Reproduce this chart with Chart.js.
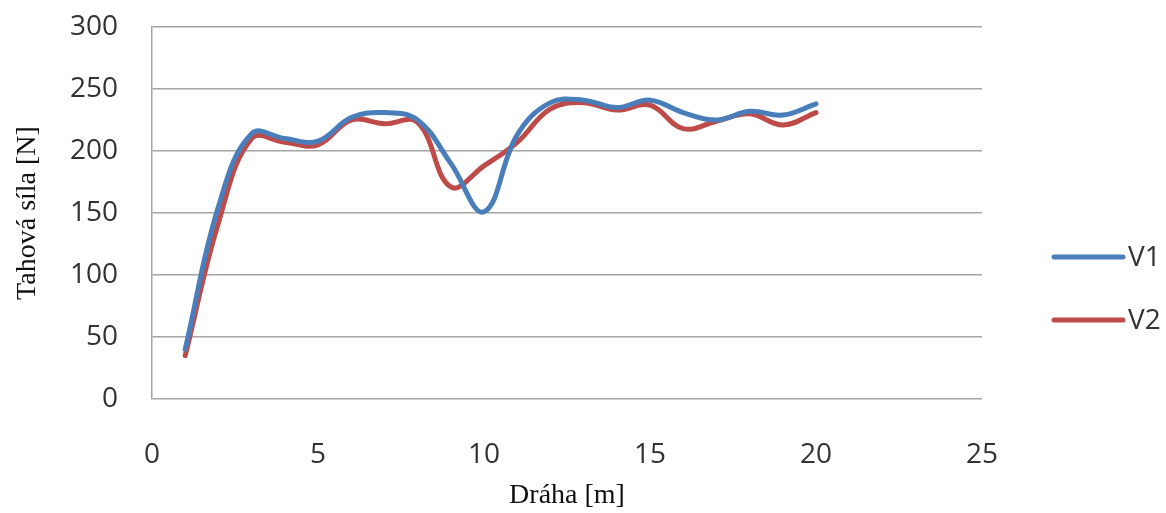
<!DOCTYPE html>
<html>
<head>
<meta charset="utf-8">
<script src="https://cdn.jsdelivr.net/npm/chart.js@4/dist/chart.umd.min.js"></script>
<style>
  html, body { margin: 0; padding: 0; background: #ffffff; }
  #wrap { width: 1166px; height: 513px; position: relative; }
</style>
</head>
<body>
<div id="wrap"><canvas id="c" width="1166" height="513"></canvas></div>
<script>
// Distance along the track [m]
const distance = [1, 2, 3, 4, 5, 6, 7, 8, 9, 10, 11, 12, 13, 14, 15, 16, 17, 18, 19, 20];
// Pulling force [N] for the two variants
const v1 = [40, 155, 214, 210, 208, 227, 231, 225, 190, 151, 213, 239, 241, 235, 241, 231, 225, 232, 229, 238];
const v2 = [35, 142, 210, 207, 205, 225, 222, 223, 171, 188, 207, 234, 239, 233, 237, 218, 224, 230, 221, 231];
const seriesNames = ['V1', 'V2'];
const seriesColors = ['#4a7ebb', '#be4b48'];
const xTicks = [0, 5, 10, 15, 20, 25];
const yTicks = [0, 50, 100, 150, 200, 250, 300];
const xTitle = 'Dráha [m]';
const yTitle = 'Tahová síla [N]';

const tickFont = { family: "'Open Sans', 'Liberation Sans', sans-serif", size: 28 };
const titleFont = { family: "'Liberation Serif', 'DejaVu Serif', serif", size: 28 };
const gridColor = '#a5a5a5';

function toPoints(values) {
  return distance.map((d, i) => ({ x: d, y: values[i] }));
}

// Legend drawn at the right of the plot: a short line sample and the series name
const sideLegend = {
  id: 'sideLegend',
  afterDraw(chart) {
    const ctx = chart.ctx;
    const area = chart.chartArea;
    const rows = [257, 320];
    ctx.save();
    chart.data.datasets.forEach((ds, i) => {
      const y = rows[i];
      const x0 = area.right + 72;
      ctx.strokeStyle = ds.borderColor;
      ctx.lineWidth = 5;
      ctx.lineCap = 'round';
      ctx.beginPath();
      ctx.moveTo(x0, y);
      ctx.lineTo(x0 + 69, y);
      ctx.stroke();
      ctx.fillStyle = '#333333';
      ctx.font = `${tickFont.size}px ${tickFont.family}`;
      ctx.textBaseline = 'middle';
      ctx.textAlign = 'left';
      ctx.fillText(ds.label, x0 + 74, y + 1);
    });
    ctx.restore();
  }
};

new Chart(document.getElementById('c'), {
  type: 'line',
  data: {
    datasets: [
      {
        label: seriesNames[0],
        data: toPoints(v1),
        borderColor: seriesColors[0],
        backgroundColor: seriesColors[0],
        borderWidth: 5,
        pointRadius: 0,
        tension: 0.4,
        borderCapStyle: 'round',
        borderJoinStyle: 'round',
        fill: false
      },
      {
        label: seriesNames[1],
        data: toPoints(v2),
        borderColor: seriesColors[1],
        backgroundColor: seriesColors[1],
        borderWidth: 5,
        pointRadius: 0,
        tension: 0.4,
        borderCapStyle: 'round',
        borderJoinStyle: 'round',
        fill: false
      }
    ]
  },
  options: {
    responsive: false,
    animation: false,
    devicePixelRatio: 1,
    layout: { padding: { left: 0, top: 27, right: 184, bottom: 0 } },
    plugins: {
      legend: { display: false },
      tooltip: { enabled: false }
    },
    scales: {
      x: {
        type: 'linear',
        min: xTicks[0],
        max: xTicks[xTicks.length - 1],
        afterBuildTicks(scale) { scale.ticks = xTicks.map(v => ({ value: v })); },
        afterFit(scale) {
          scale.height = 114;
          scale.paddingLeft = 0;
          scale.paddingRight = 0;
        },
        grid: { display: false, drawTicks: false },
        border: { display: false },
        ticks: { font: tickFont, color: '#333333', padding: 39, maxRotation: 0 },
        title: { display: true, text: xTitle, font: titleFont, color: '#111111', padding: { top: 0, bottom: 1 } }
      },
      y: {
        type: 'linear',
        min: yTicks[0],
        max: yTicks[yTicks.length - 1],
        afterBuildTicks(scale) { scale.ticks = yTicks.map(v => ({ value: v })); },
        afterFit(scale) {
          scale.width = 152;
          scale.paddingTop = 0;
          scale.paddingBottom = 0;
        },
        grid: { color: gridColor, lineWidth: 1.5, drawTicks: false },
        border: { display: true, color: gridColor, width: 1.5 },
        ticks: { font: tickFont, color: '#333333', padding: 34 },
        title: { display: true, text: yTitle, font: titleFont, color: '#111111', padding: { top: 11, bottom: 0 } }
      }
    }
  },
  plugins: [sideLegend]
});
</script>
</body>
</html>
